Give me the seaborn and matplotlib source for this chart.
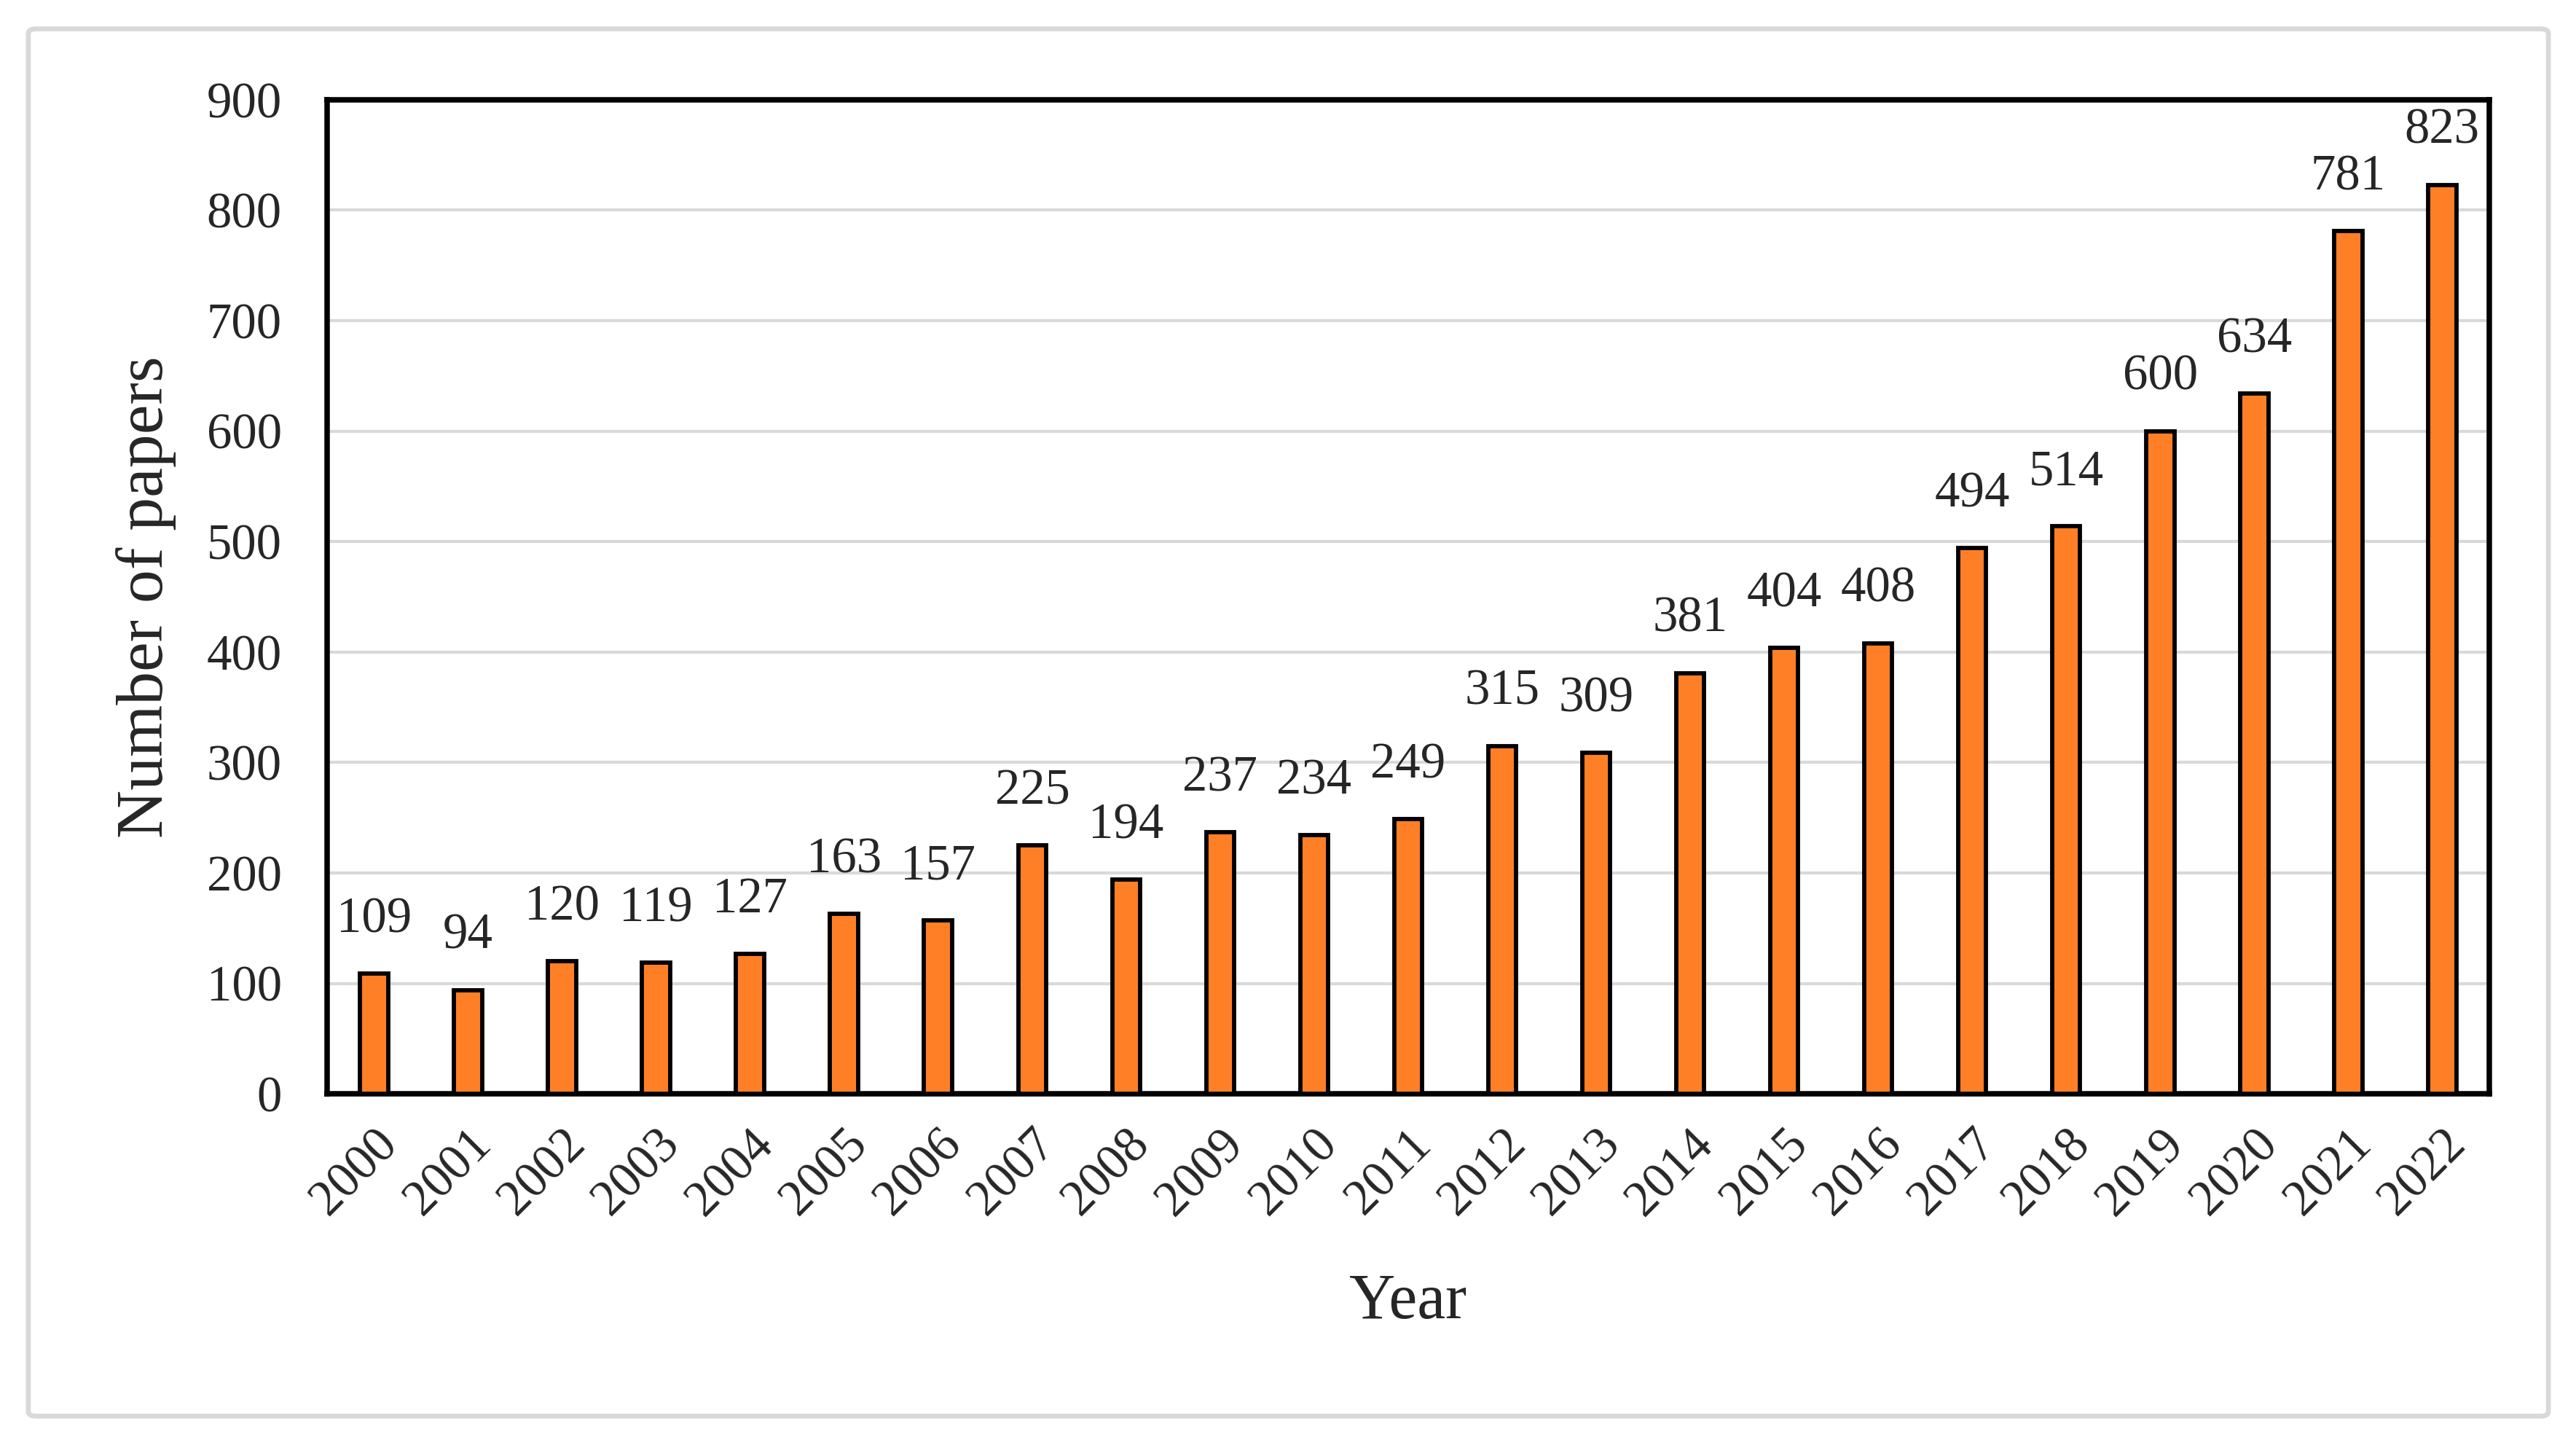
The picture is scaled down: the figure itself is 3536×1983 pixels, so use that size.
import matplotlib
matplotlib.use("Agg")
import matplotlib.pyplot as plt
from matplotlib.patches import FancyBboxPatch
import seaborn as sns
import pandas as pd

# =========================
# DATA
# =========================

years = [str(y) for y in range(2000, 2023)]

papers = [109, 94, 120, 119, 127, 163, 157, 225, 194, 237, 234, 249,
          315, 309, 381, 404, 408, 494, 514, 600, 634, 781, 823]

y_ticks = [0, 100, 200, 300, 400, 500, 600, 700, 800, 900]

df = pd.DataFrame({"Year": years, "Papers": papers})

# =========================
# STYLE
# =========================

sns.set_style("white")
plt.rcParams["font.family"] = ["Liberation Serif", "DejaVu Serif"]

bar_color = "#FF7F27"
grid_color = "#D9D9D9"

fig = plt.figure(figsize=(3537 / 300, 1983 / 300), dpi=300)

# outer light grey frame around the whole chart
frame = FancyBboxPatch(
    (0.011, 0.020), 0.978, 0.960,
    boxstyle="round,pad=0,rounding_size=0.003",
    transform=fig.transFigure,
    facecolor="none",
    edgecolor=grid_color,
    linewidth=1.6,
    zorder=-1
)
fig.patches.append(frame)

ax = fig.add_axes([0.127, 0.243, 0.839, 0.688])

# =========================
# BARS
# =========================

sns.barplot(
    data=df,
    x="Year",
    y="Papers",
    color=bar_color,
    saturation=1,
    edgecolor="black",
    linewidth=1.4,
    width=0.3,
    ax=ax,
    zorder=3
)

ax.bar_label(ax.containers[0], labels=[str(v) for v in papers],
             padding=10, fontsize=16.5)

# =========================
# AXES
# =========================

ax.set_ylim(0, 900)
ax.set_xlim(-0.5, len(years) - 0.5)
ax.set_yticks(y_ticks)
ax.yaxis.grid(True, color=grid_color, linewidth=1.0, zorder=0)
ax.set_axisbelow(True)

for spine in ax.spines.values():
    spine.set_visible(True)
    spine.set_color("black")
    spine.set_linewidth(1.8)

ax.tick_params(axis="y", length=0, pad=15, labelsize=16.5)
ax.tick_params(axis="x", length=0, pad=9, labelsize=16.5)

plt.setp(ax.get_xticklabels(), rotation=45, ha="right",
         rotation_mode="anchor")

ax.set_xlabel("Year", fontsize=21, labelpad=16)
ax.set_ylabel("Number of papers", fontsize=22, labelpad=10)

fig.savefig("out.png", dpi=300, facecolor="white")
